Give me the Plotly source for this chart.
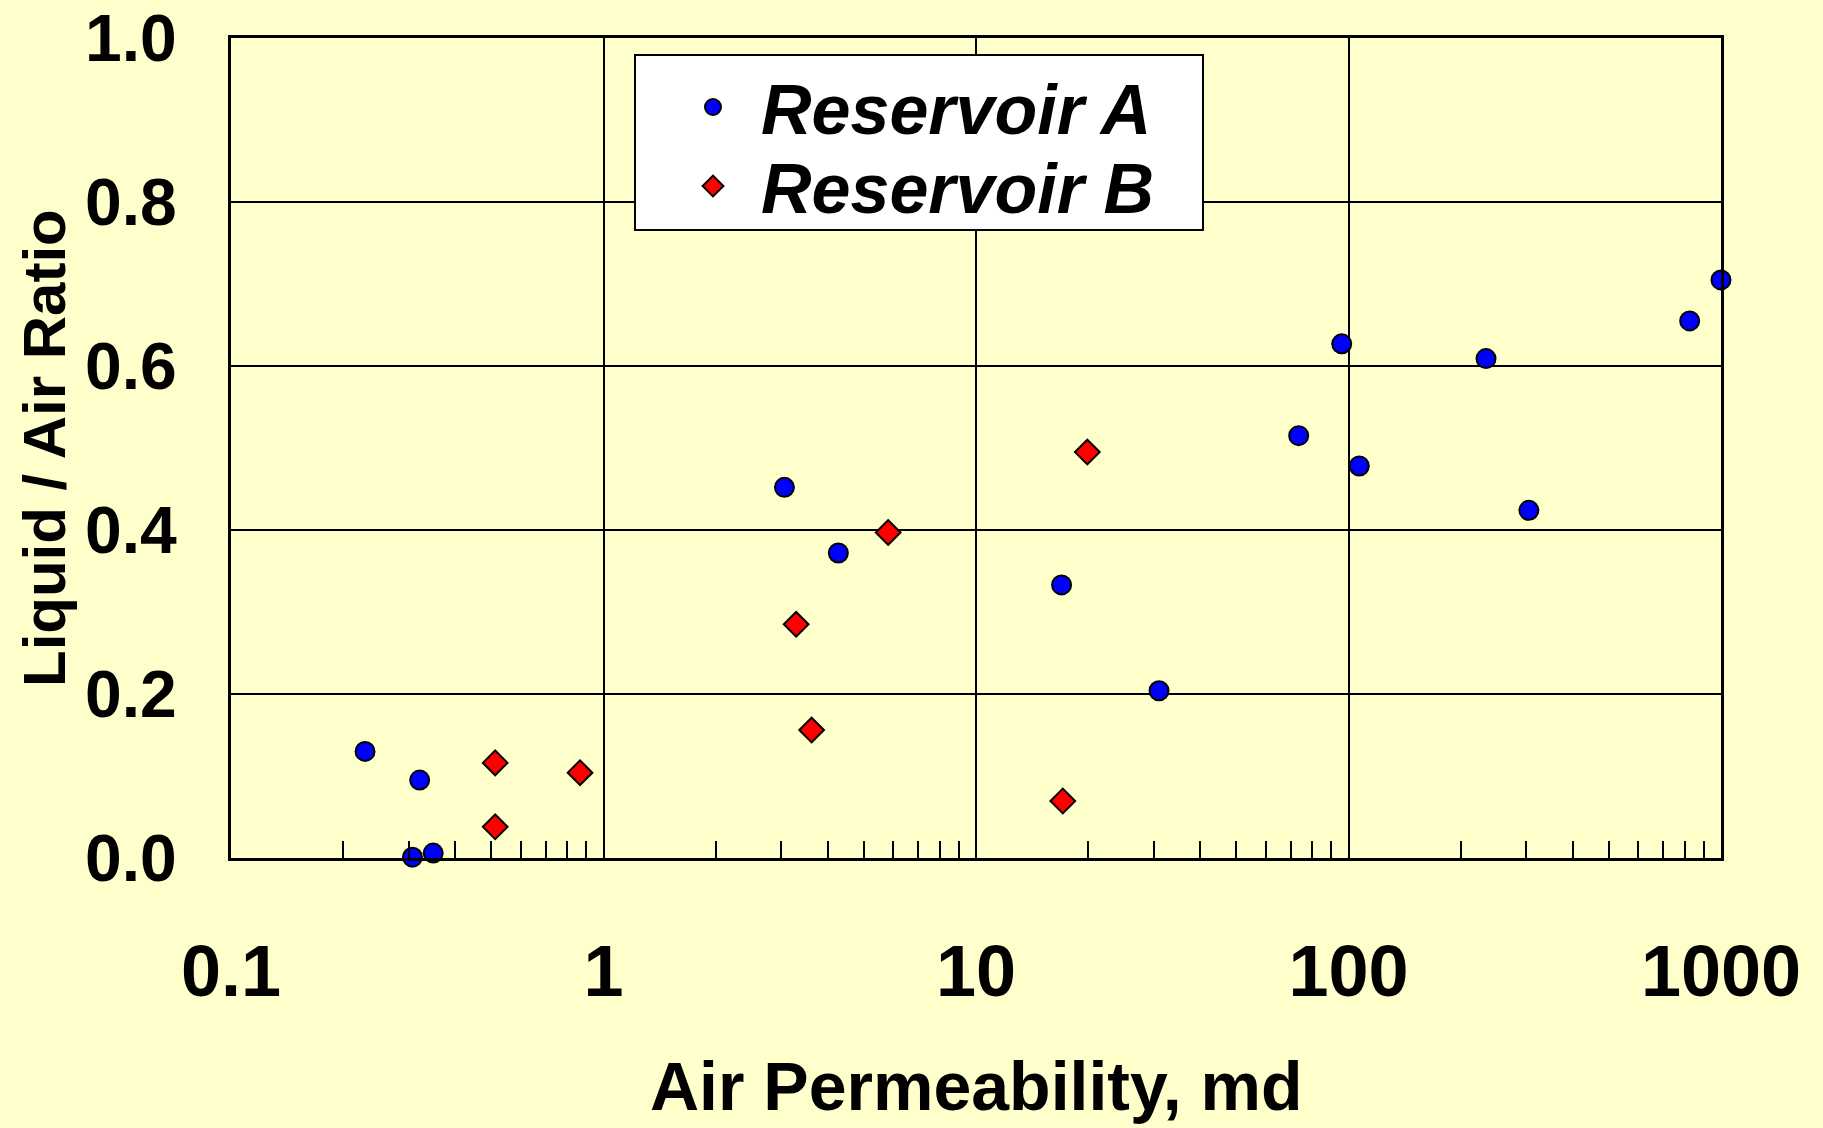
import plotly.graph_objects as go

# Reservoir A (blue circles)
a_perm = [0.229, 0.321, 0.307, 0.349, 3.06, 4.27, 16.97, 31.0, 73.5, 95.9, 106.9, 234, 305, 824, 1000]
a_ratio = [0.130, 0.095, 0.001, 0.006, 0.452, 0.372, 0.333, 0.204, 0.515, 0.627, 0.478, 0.609, 0.424, 0.655, 0.705]

# Reservoir B (red diamonds)
b_perm = [0.512, 0.512, 0.865, 3.29, 3.62, 5.81, 17.1, 19.9]
b_ratio = [0.116, 0.038, 0.104, 0.285, 0.156, 0.397, 0.0695, 0.495]

x_tickvals = [0.1, 1, 10, 100, 1000]
x_ticktext = ["0.1", "1", "10", "100", "1000"]
y_tickvals = [0.0, 0.2, 0.4, 0.6, 0.8, 1.0]
y_ticktext = ["0.0", "0.2", "0.4", "0.6", "0.8", "1.0"]

minor_vals = [m * d for d in (0.1, 1, 10, 100) for m in range(2, 10)]

BG = "#FFFFCC"
FONT = "Liberation Sans"

fig = go.Figure()
fig.add_trace(go.Scatter(
    x=a_perm, y=a_ratio, mode="markers", name="Reservoir A",
    marker=dict(symbol="circle", size=19, color="#0000FF",
                line=dict(color="black", width=2)),
    legend="legend", cliponaxis=False,
))
fig.add_trace(go.Scatter(
    x=b_perm, y=b_ratio, mode="markers", name="Reservoir B",
    marker=dict(symbol="diamond", size=19, color="#FF0000",
                line=dict(color="black", width=2)),
    legend="legend2", cliponaxis=False,
))

L, R, T, B = 231, 102, 38, 270
W, H = 1823, 1128
pw = W - L - R
ph = H - T - B

def px_x(p):
    return (p - L) / pw

def px_y(p):
    return (H - B - p) / ph

legend_common = dict(
    font=dict(family=FONT, size=70, color="black", weight="bold", style="italic"),
    bgcolor="rgba(0,0,0,0)", borderwidth=0,
    xanchor="left", yanchor="middle", itemwidth=86,
    itemsizing="trace",
)

fig.update_layout(
    width=W, height=H,
    margin=dict(l=L, r=R, t=T, b=B, autoexpand=False),
    paper_bgcolor=BG, plot_bgcolor=BG,
    showlegend=True,
    legend=dict(x=px_x(665), y=px_y(107), **legend_common),
    legend2=dict(x=px_x(665), y=px_y(186), **legend_common),
    shapes=[dict(type="rect", xref="paper", yref="paper",
                 x0=px_x(635), x1=px_x(1203), y0=px_y(230), y1=px_y(55),
                 fillcolor="white", line=dict(color="black", width=2),
                 layer="above")],
    annotations=[
        dict(text="Air Permeability, md", xref="paper", yref="paper",
             x=0.5, y=px_y(1086), xanchor="center", yanchor="middle",
             showarrow=False,
             font=dict(family=FONT, size=68, color="black", weight="bold")),
        dict(text="Liquid / Air Ratio", xref="paper", yref="paper",
             x=px_x(44), y=0.5, xanchor="center", yanchor="middle",
             textangle=-90, showarrow=False,
             font=dict(family=FONT, size=60, color="black", weight="bold")),
    ],
)

fig.update_xaxes(
    type="log", range=[-1, 3],
    tickmode="array", tickvals=x_tickvals, ticktext=x_ticktext,
    ticks="", showgrid=True, gridcolor="black", gridwidth=2,
    showline=True, linecolor="black", linewidth=3, mirror=True,
    zeroline=False,
    tickfont=dict(family=FONT, size=72, color="black", weight="bold"),
    ticklabelstandoff=49, ticklabeloverflow="allow",
    minor=dict(tickmode="array", tickvals=minor_vals, ticks="inside",
               ticklen=17, tickwidth=2, tickcolor="black", showgrid=False),
)
fig.update_yaxes(
    range=[0, 1],
    tickmode="array", tickvals=y_tickvals, ticktext=y_ticktext,
    ticks="", showgrid=True, gridcolor="black", gridwidth=2,
    showline=True, linecolor="black", linewidth=3, mirror=True,
    zeroline=False,
    tickfont=dict(family=FONT, size=66, color="black", weight="bold"),
    ticklabelstandoff=38, ticklabeloverflow="allow",
)

fig.write_html("out.html", config={"displayModeBar": False},
               post_script="document.body.style.margin='0';")
